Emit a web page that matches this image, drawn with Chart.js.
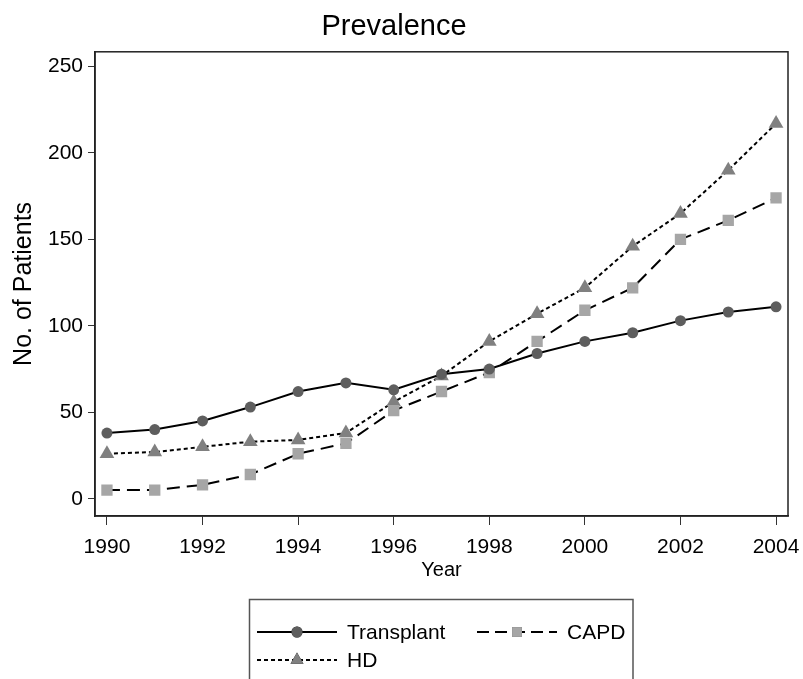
<!DOCTYPE html>
<html>
<head>
<meta charset="utf-8">
<script src="https://cdn.jsdelivr.net/npm/chart.js@4.4.1/dist/chart.umd.min.js"></script>
<style>
  html, body { margin: 0; padding: 0; background: #fff; }
  #wrap { width: 803px; height: 679px; }
</style>
</head>
<body>
<div id="wrap"><canvas id="prevChart" width="803" height="679"></canvas></div>
<script>
// values
const years = [1990, 1991, 1992, 1993, 1994, 1995, 1996, 1997, 1998, 1999, 2000, 2001, 2002, 2003, 2004];
const transplant = [38, 40, 45, 53, 62, 67, 63, 72, 75, 84, 91, 96, 103, 108, 111];
const capd = [5, 5, 8, 14, 26, 32, 51, 62, 73, 91, 109, 122, 150, 161, 174];
const hd = [26, 27, 30, 33, 34, 38, 56, 71, 91, 107, 122, 146, 165, 190, 217];
const xTicks = [1990, 1992, 1994, 1996, 1998, 2000, 2002, 2004];
const yTicks = [0, 50, 100, 150, 200, 250];

const sans = '"Liberation Sans", Arial, sans-serif';

function pts(vals) {
    return years.map((y, i) => ({ x: y, y: vals[i] }));
}

// legend entries: label, dash, marker
const legendItems = [
    { text: 'Transplant', dash: [], style: 'circle', color: '#5e5e5e', r: 5.5, x: 257, y: 632 },
    { text: 'CAPD', dash: [12, 6], style: 'rect', color: '#a6a6a6', r: 7, x: 477, y: 632 },
    { text: 'HD', dash: [4, 3], style: 'triangle', color: '#808080', r: 7.5, x: 257, y: 660 }
];

// frame around the plot + boxed legend at the bottom
const framePlugin = {
    id: 'framePlugin',
    afterDraw(chart) {
        const ctx = chart.ctx;
        const a = chart.chartArea;
        ctx.save();
        ctx.strokeStyle = '#222';
        ctx.lineWidth = 1.5;
        ctx.strokeRect(a.left, a.top, a.right - a.left, a.bottom - a.top);

        ctx.strokeStyle = '#555';
        ctx.lineWidth = 1.5;
        ctx.strokeRect(249.5, 599.5, 633 - 249.5, 100);

        legendItems.forEach(it => {
            ctx.strokeStyle = '#000';
            ctx.lineWidth = 2;
            ctx.setLineDash(it.dash);
            ctx.beginPath();
            ctx.moveTo(it.x, it.y);
            ctx.lineTo(it.x + 80, it.y);
            ctx.stroke();
            ctx.setLineDash([]);
            Chart.helpers.drawPoint(ctx, {
                pointStyle: it.style, radius: it.r, rotation: 0, borderWidth: 0
            }, it.x + 40, it.y);
            ctx.fillStyle = it.color;
            ctx.fill();
            ctx.fillStyle = '#000';
            ctx.font = '21px ' + sans;
            ctx.textBaseline = 'middle';
            ctx.textAlign = 'left';
            ctx.fillText(it.text, it.x + 90, it.y + 1);
        });
        ctx.restore();
    }
};

new Chart(document.getElementById('prevChart').getContext('2d'), {
    type: 'line',
    data: {
        datasets: [
            {
                label: 'Transplant',
                data: pts(transplant),
                borderColor: '#000',
                borderWidth: 2,
                pointStyle: 'circle',
                pointRadius: 5.5,
                pointBackgroundColor: '#5e5e5e',
                pointBorderWidth: 0
            },
            {
                label: 'CAPD',
                data: pts(capd),
                borderColor: '#000',
                borderWidth: 2,
                borderDash: [13, 7],
                pointStyle: 'rect',
                pointRadius: 8,
                pointBackgroundColor: '#a6a6a6',
                pointBorderWidth: 0
            },
            {
                label: 'HD',
                data: pts(hd),
                borderColor: '#000',
                borderWidth: 2,
                borderDash: [4, 3],
                pointStyle: 'triangle',
                pointRadius: 8.5,
                pointBackgroundColor: '#808080',
                pointBorderWidth: 0
            }
        ]
    },
    options: {
        responsive: false,
        animation: false,
        layout: { padding: { left: 0, right: 15, top: 0, bottom: 80 } },
        plugins: {
            legend: { display: false },
            tooltip: { enabled: false },
            title: {
                display: true,
                text: 'Prevalence',
                color: '#000',
                font: { family: sans, size: 29, weight: 'normal' },
                padding: { top: 10, bottom: 7 }
            }
        },
        scales: {
            x: {
                type: 'linear',
                min: 1989.75,
                max: 2004.25,
                afterBuildTicks: s => { s.ticks = xTicks.map(v => ({ value: v })); },
                afterFit: s => { s.height = 83; s.paddingLeft = 0; s.paddingRight = 0; },
                grid: { drawOnChartArea: false, tickLength: 9, color: '#333' },
                border: { color: '#222', width: 1.5 },
                ticks: {
                    color: '#000',
                    padding: 10,
                    maxRotation: 0,
                    font: { family: sans, size: 21 },
                    callback: v => String(v)
                },
                title: {
                    display: true,
                    text: 'Year',
                    color: '#000',
                    font: { family: sans, size: 20 },
                    padding: { top: 0, bottom: 17 }
                }
            },
            y: {
                min: -10,
                max: 258.5,
                afterBuildTicks: s => { s.ticks = yTicks.map(v => ({ value: v })); },
                afterFit: s => { s.width = 95; s.paddingTop = 0; s.paddingBottom = 0; },
                grid: { drawOnChartArea: false, tickLength: 7, color: '#333' },
                border: { color: '#222', width: 1.5 },
                ticks: {
                    color: '#000',
                    padding: 5,
                    font: { family: sans, size: 21 }
                },
                title: {
                    display: true,
                    text: 'No. of Patients',
                    color: '#000',
                    font: { family: sans, size: 25 },
                    padding: { top: 9, bottom: 0 }
                }
            }
        }
    },
    plugins: [framePlugin]
});
</script>
</body>
</html>
